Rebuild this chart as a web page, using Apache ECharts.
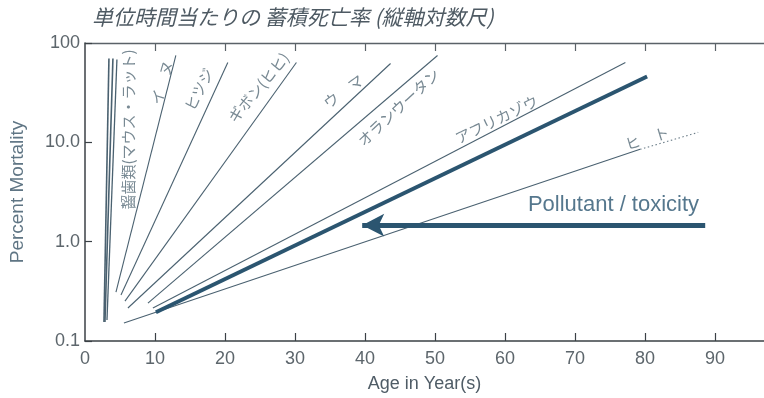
<!DOCTYPE html>
<html>
<head>
<meta charset="utf-8">
<script src="https://cdn.jsdelivr.net/npm/echarts@6/dist/echarts.min.js"></script>
<style>
  html, body { margin: 0; padding: 0; background: #fff; }
  #chart { width: 764px; height: 398px; }
</style>
</head>
<body>
<div id="chart"></div>
<script>
// Cumulative mortality per unit time (log scale), one straight line per species: [age, percent]
const rodentA    = [[2.71, 0.155], [3.42, 69.8]];
const rodentB    = [[2.85, 0.155], [3.99, 69.8]];
const rodentC    = [[3.14, 0.163], [4.56, 68.3]];
const dog        = [[4.42, 0.31],  [12.98, 74.9]];
const sheep      = [[5.14, 0.29],  [20.4, 63.7]];
const gibbon     = [[5.71, 0.252], [30.2, 63.7]];
const horse      = [[6.13, 0.215], [43.65, 62.2]];
const orangutan  = [[8.99, 0.241], [50.36, 74.9]];
const elephant   = [[9.70, 0.215], [77.2, 63.7]];
const human      = [[5.56, 0.152], [79.3, 8.5]];
const humanExtra = [[79.3, 8.5],   [87.6, 12.6]];
const pollutant  = [[10.13, 0.195], [80.3, 46.0]];

// Species names and where they sit along their lines: [age, percent, angle]
const speciesNames = ['齧歯類(マウス・ラット)', 'イ　ヌ', 'ヒツジ', 'ギボン(ヒヒ)', 'ウ　マ', 'オランウータン', 'アフリカゾウ', 'ヒ　ト'];
const speciesLabelAt = [[6.13, 13.5, 90], [11.0, 40, 74], [16.3, 34.1, 63], [24.8, 35.7, 50], [36.9, 32.6, 36], [44.8, 22.5, 43], [58.8, 17.0, 26], [80.3, 11.0, 17]];

// Pollutant annotation
const pollutantText = 'Pollutant / toxicity';
const pollutantTextAt = [75.5, 2.33];
const arrowFrom = [88.6, 1.466];
const arrowTo = [39.6, 1.466];

// Axes
const xMin = 0, xMax = 97;
const xTickValues = [10, 20, 30, 40, 50, 60, 70, 80, 90];
const xLabelValues = [0, 10, 20, 30, 40, 50, 60, 70, 80, 90];
const yTickText = { '-1': '0.1', '0': '1.0', '1': '10.0', '2': '100' };

const axisColor = '#3b4146';
const tickTextColor = '#5d666c';
const lineColor = '#4a6170';
const darkBlue = '#2b5570';
const labelColor = '#566b78';

function thinLine(data, width) {
  return {
    type: 'line', data: data, symbol: 'none', silent: true,
    lineStyle: { color: lineColor, width: width || 1.1 }, z: 2
  };
}

const series = [
  thinLine(rodentA, 1.6), thinLine(rodentB, 1.6), thinLine(rodentC, 1.3),
  thinLine(dog), thinLine(sheep), thinLine(gibbon), thinLine(horse),
  thinLine(orangutan), thinLine(elephant), thinLine(human),
  {
    type: 'line', data: humanExtra, symbol: 'none', silent: true,
    lineStyle: { color: '#6d7f8a', width: 1.1, type: [1.5, 2.5] }, z: 2
  },
  {
    type: 'line', data: pollutant, symbol: 'none', silent: true,
    lineStyle: { color: darkBlue, width: 4 }, z: 3,
    markLine: {
      silent: true,
      symbol: ['none', 'arrow'],
      symbolSize: [17, 22],
      label: { show: false },
      lineStyle: { color: darkBlue, width: 5, type: 'solid' },
      data: [[{ coord: arrowFrom }, { coord: arrowTo }]]
    }
  },
  {
    type: 'scatter', symbolSize: 0, silent: true, z: 5,
    data: speciesNames.map((n, i) => ({
      name: n,
      value: [speciesLabelAt[i][0], speciesLabelAt[i][1]],
      label: { rotate: speciesLabelAt[i][2] }
    })),
    label: {
      show: true, position: 'inside', formatter: '{b}',
      color: labelColor, fontSize: 15,
      fontFamily: 'Noto Sans CJK JP'
    }
  },
  {
    type: 'scatter', symbolSize: 0, silent: true, z: 5,
    data: [{ name: pollutantText, value: pollutantTextAt }],
    label: {
      show: true, position: 'inside', formatter: '{b}',
      color: darkBlue, fontSize: 22,
      fontFamily: 'Liberation Sans, Arial, sans-serif'
    }
  }
];

const chart = echarts.init(document.getElementById('chart'), null, { renderer: 'canvas' });
chart.setOption({
  animation: false,
  backgroundColor: '#ffffff',
  title: {
    text: '単位時間当たりの 蓄積死亡率 (縦軸対数尺)',
    left: 87, top: 2,
    textStyle: {
      fontFamily: 'Noto Sans CJK JP', fontStyle: 'italic',
      fontWeight: 'normal', fontSize: 21, color: '#4e5a63'
    }
  },
  grid: { left: 84, right: 0, top: 43, bottom: 57, containLabel: false },
  xAxis: [
    {
      type: 'value', min: xMin, max: xMax, position: 'bottom',
      splitLine: { show: false },
      axisLine: { show: true, lineStyle: { color: axisColor, width: 1.5 } },
      axisTick: { show: true, inside: true, length: 8, customValues: xTickValues,
                  lineStyle: { color: axisColor, width: 1.2 } },
      axisLabel: { customValues: xLabelValues, margin: 9, color: tickTextColor,
                   fontSize: 18, fontFamily: 'Liberation Sans Narrow, Liberation Sans, Arial' },
      name: 'Age in Year(s)', nameLocation: 'middle', nameGap: 34,
      nameTextStyle: { color: '#4f5c66', fontSize: 18,
                       fontFamily: 'Liberation Sans Narrow, Liberation Sans, Arial' }
    },
    {
      type: 'value', min: xMin, max: xMax, position: 'top',
      splitLine: { show: false },
      axisLine: { show: true, lineStyle: { color: '#5a6268', width: 1.3 } },
      axisTick: { show: true, inside: true, length: 8, customValues: xTickValues,
                  lineStyle: { color: '#5a6268', width: 1.2 } },
      axisLabel: { show: false }
    }
  ],
  yAxis: {
    type: 'log', logBase: 10, min: 0.1, max: 100,
    splitLine: { show: false },
    axisLine: { show: true, lineStyle: { color: axisColor, width: 1.5 } },
    axisTick: { show: true, inside: true, length: 7, lineStyle: { color: axisColor, width: 1.2 } },
    axisLabel: {
      margin: 5, color: tickTextColor, fontSize: 18,
      fontFamily: 'Liberation Sans, Arial',
      formatter: v => yTickText[String(Math.round(Math.log10(v)))] || ''
    },
    name: 'Percent Mortality', nameLocation: 'middle', nameGap: 58,
    nameTextStyle: { color: '#5f7584', fontSize: 19, fontFamily: 'Liberation Sans, Arial' }
  },
  series: series
});
</script>
</body>
</html>
